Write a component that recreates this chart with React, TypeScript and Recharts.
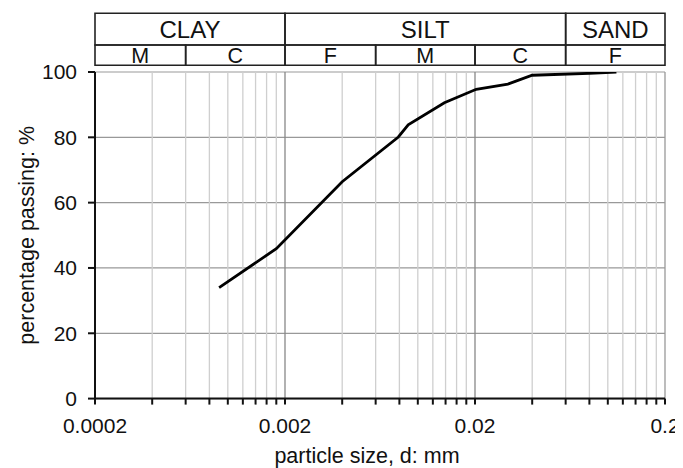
import { LineChart, Line, XAxis, YAxis, CartesianGrid, ReferenceLine, ReferenceArea } from 'recharts';

// particle size distribution
const sizes = [0.0009, 0.0018, 0.004, 0.0079, 0.0089, 0.0138, 0.0203, 0.0298, 0.04, 0.08, 0.111];
const passing = [34.0, 45.9, 66.4, 80.1, 83.8, 90.6, 94.7, 96.3, 99.0, 99.6, 100];

const xTicks = [
  0.0002, 0.0004, 0.0006, 0.0008, 0.001, 0.0012, 0.0014, 0.0016, 0.0018,
  0.002, 0.004, 0.006, 0.008, 0.01, 0.012, 0.014, 0.016, 0.018,
  0.02, 0.04, 0.06, 0.08, 0.1, 0.12, 0.14, 0.16, 0.18,
  0.2,
];
const xLabels: Record<string, string> = { '0.0002': '0.0002', '0.002': '0.002', '0.02': '0.02', '0.2': '0.2' };
const majorLines = [0.002, 0.02];
const yTicks = [0, 20, 40, 60, 80, 100];

const soilTypes = [
  { name: 'CLAY', from: 0.0002, to: 0.002 },
  { name: 'SILT', from: 0.002, to: 0.06 },
  { name: 'SAND', from: 0.06, to: 0.2 },
];
const fractions = [
  { name: 'M', from: 0.0002, to: 0.0006 },
  { name: 'C', from: 0.0006, to: 0.002 },
  { name: 'F', from: 0.002, to: 0.006 },
  { name: 'M', from: 0.006, to: 0.02 },
  { name: 'C', from: 0.02, to: 0.06 },
  { name: 'F', from: 0.06, to: 0.2 },
];
// header rows sit above the plot, in y units
const headerTop = 118;
const headerMid = 108.27;
const headerBottom = 102.05;

const data = sizes.map((d, i) => ({ d, p: passing[i] }));

const FONT = '"Liberation Sans", Arial, sans-serif';

const YTitle = (props: any) => {
  const vb = props.viewBox;
  const cx = vb.x + 9;
  const cy = vb.y + vb.height / 2;
  return (
    <text x={cx} y={cy} transform={`rotate(-90 ${cx} ${cy})`} textAnchor="middle"
      dominantBaseline="central" fontSize={21.5} fill="#111" fontFamily={FONT}>
      percentage passing: %
    </text>
  );
};

const XTitle = (props: any) => {
  const vb = props.viewBox;
  return (
    <text x={vb.x + vb.width / 2 - 13} y={vb.y + vb.height - 3} textAnchor="middle"
      fontSize={21.5} fill="#111" fontFamily={FONT}>
      particle size, d: mm
    </text>
  );
};

export default function App() {
  return (
    <div style={{ width: 675, height: 460, fontFamily: FONT }}>
      <LineChart width={675} height={460} data={data} margin={{ top: 64, right: 18, left: 10, bottom: 2 }}>
        <CartesianGrid vertical={false} stroke="#999" strokeWidth={1.2} />
        {xTicks.slice(1, -1).map((t) => (
          <ReferenceLine key={t} x={t} stroke={majorLines.includes(t) ? '#888' : '#cfcfcf'} strokeWidth={1.3} />
        ))}
        <ReferenceLine x={0.2} stroke="#999" strokeWidth={1.3} />
        {soilTypes.map((z) => (
          <ReferenceArea key={z.name} x1={z.from} x2={z.to} y1={headerMid} y2={headerTop} ifOverflow="visible"
            fill="none" fillOpacity={0} stroke="#222" strokeWidth={1.6}
            label={{ value: z.name, position: 'center', fontSize: 24, fill: '#111' }} />
        ))}
        {fractions.map((z, i) => (
          <ReferenceArea key={i} x1={z.from} x2={z.to} y1={headerBottom} y2={headerMid} ifOverflow="visible"
            fill="none" fillOpacity={0} stroke="#222" strokeWidth={1.6}
            label={{ value: z.name, position: 'center', fontSize: 21.5, fill: '#111' }} />
        ))}
        <XAxis dataKey="d" type="number" scale="log" domain={[0.0002, 0.2]} allowDataOverflow
          ticks={xTicks} interval={0} height={67.4}
          tickFormatter={(v: number) => xLabels[String(v)] ?? ''}
          tick={{ fontSize: 21, fill: '#111' }} tickSize={6} tickMargin={13}
          axisLine={{ stroke: '#111', strokeWidth: 2 }} tickLine={{ stroke: '#111', strokeWidth: 2 }}
          label={XTitle} />
        <YAxis type="number" domain={[0, 100]} ticks={yTicks} width={77} allowDataOverflow
          tick={{ fontSize: 21, fill: '#111' }} tickSize={7} tickMargin={11}
          axisLine={{ stroke: '#111', strokeWidth: 2 }} tickLine={{ stroke: '#111', strokeWidth: 2 }}
          label={YTitle} />
        <Line dataKey="p" type="linear" stroke="#000" strokeWidth={2.8} dot={false} isAnimationActive={false} />
      </LineChart>
    </div>
  );
}
